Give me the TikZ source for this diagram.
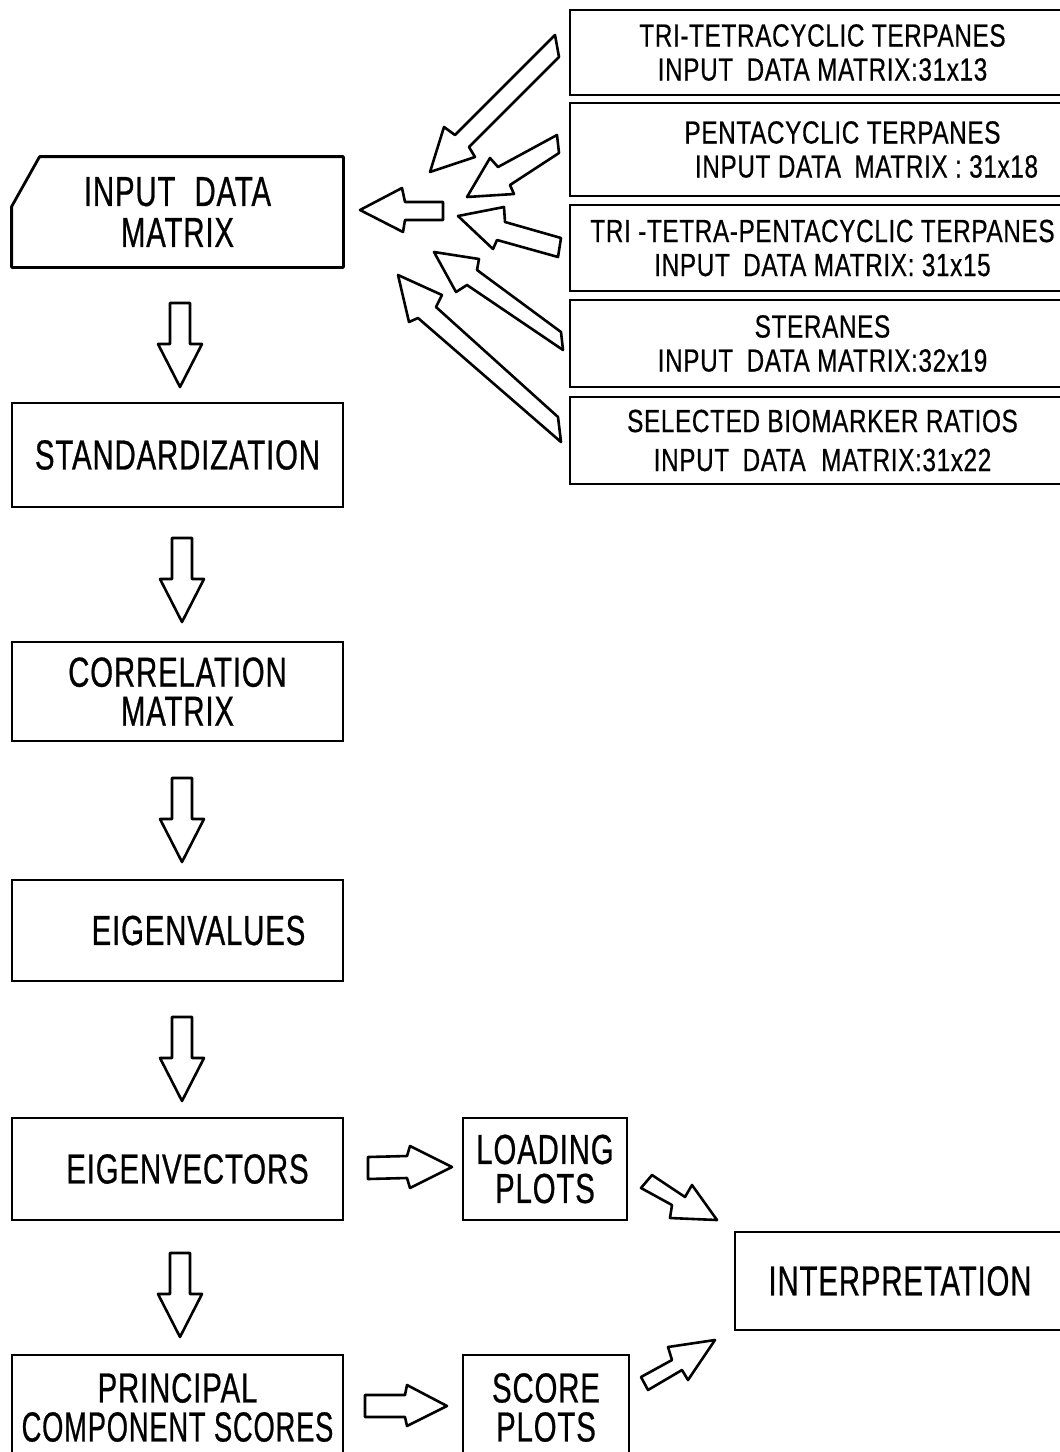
\documentclass[tikz,border=0pt]{standalone}
\usepackage{fontspec}
\setmainfont{Liberation Sans}
\newfontfamily\bigf[FakeStretch=0.70, FakeBold=0.6, LetterSpace=2]{Liberation Sans}
\newfontfamily\smf[FakeStretch=0.76, FakeBold=0.5, LetterSpace=2]{Liberation Sans}
\usetikzlibrary{calc}
\begin{document}
\begin{tikzpicture}[x=0.5pt,y=-0.5pt,
  lbox/.style={draw, line width=1.4pt, inner sep=0pt, align=center,
    minimum width=165.5pt, font={\bigf\fontsize{21}{19.5}\selectfont}},
  rbox/.style={draw, line width=1.4pt, inner sep=0pt, align=center,
    minimum width=252.5pt, font={\smf\fontsize{16}{17}\selectfont}},
  pbox/.style={draw, line width=1.4pt, inner sep=0pt, align=center,
    font={\bigf\fontsize{21}{19.5}\selectfont}},
  blockarrow/.style={draw, line width=1.3pt, line join=round, fill=white},
  downarr/.pic={\draw[blockarrow] (-10,0) -- (10,0) -- (10,41) -- (22,41) -- (0,84) -- (-22,41) -- (-10,41) -- cycle;}
]
\useasboundingbox (0,0) rectangle (1060,1452);
\clip (0,0) rectangle (1060,1452);
\fill[white] (0,0) rectangle (1060,1452);

% left column
\node[inner sep=0pt, minimum width=165.5pt, minimum height=55pt, align=center,
  font={\bigf\fontsize{21}{20.5}\selectfont}] (input) at (177.5,212) {INPUT\hspace{5pt} DATA\\MATRIX};
\draw[line width=1.4pt, line join=round] ($(input.north west)+(28,0)$) -- (input.north east)
  -- (input.south east) -- (input.south west) -- ($(input.north west)+(0,50)$) -- cycle;

\node[lbox, minimum height=52pt] (std) at (177.5,455) {STANDARDIZATION};
\node[lbox, minimum height=49.5pt] (corr) at (177.5,691.5) {CORRELATION\\MATRIX};
\node[lbox, minimum height=50.5pt] (eval) at (177.5,930.5) {\hspace*{21pt}EIGENVALUES};
\node[lbox, minimum height=51pt] (evec) at (177.5,1169) {\hspace*{10pt}EIGENVECTORS};
\node[lbox, minimum height=52.5pt] (pcs) at (177.5,1407.5) {PRINCIPAL\\\scalebox{0.93}[1]{COMPONENT SCORES}};

% right column
\node[rbox, minimum height=42.5pt] (b1) at (822.5,52.5) {TRI-TETRACYCLIC TERPANES\\INPUT\hspace{3pt} DATA MATRIX:31x13};
\node[rbox, minimum height=46.5pt] (b2) at (822.5,149.5) {\hspace*{20pt}PENTACYCLIC TERPANES\\\hspace*{44pt}INPUT DATA\hspace{3pt} MATRIX : 31x18};
\node[rbox, minimum height=43pt] (b3) at (822.5,248) {TRI -TETRA-PENTACYCLIC TERPANES\\INPUT\hspace{3pt} DATA MATRIX: 31x15};
\node[rbox, minimum height=43.5pt] (b4) at (822.5,343.5) {STERANES\\INPUT\hspace{3pt} DATA MATRIX:32x19};
\node[rbox, minimum height=43.5pt, font={\smf\fontsize{16}{19.5}\selectfont}] (b5) at (822.5,440.5) {SELECTED BIOMARKER RATIOS\\INPUT\hspace{3pt} DATA\hspace{4pt} MATRIX:31x22};

% plots and interpretation
\node[pbox, minimum width=82pt, minimum height=51pt] (load) at (545,1169) {LOADING\\PLOTS};
\node[pbox, minimum width=83pt, minimum height=52.5pt] (score) at (546,1407.5) {SCORE\\PLOTS};
\node[pbox, minimum width=170pt, minimum height=49pt] (interp) at (905,1281) {\hspace*{-5pt}INTERPRETATION};

% arrows into input data matrix
\draw[blockarrow] (555,35) -- (559,57) -- (469,147) -- (475,157) -- (430,172) -- (444,127) -- (455,135) -- cycle;
\draw[blockarrow] (557,135) -- (559,153) -- (510,185) -- (514,194) -- (467,197) -- (490,158) -- (498,167) -- cycle;
\draw[blockarrow] (443,202) -- (443,220) -- (405,220) -- (403,232) -- (360,210) -- (402,188) -- (405,202) -- cycle;
\draw[blockarrow] (561,238) -- (558,257) -- (497,240) -- (493,249) -- (458,216) -- (504,207) -- (505,222) -- cycle;
\draw[blockarrow] (561,332) -- (563,350) -- (467,285) -- (456,292) -- (434,252) -- (479,259) -- (477,270) -- cycle;
\draw[blockarrow] (558,417) -- (561,442) -- (418,318) -- (409,322) -- (398,275) -- (442,295) -- (436,307) -- cycle;

% down arrows
\pic at (180,303) {downarr};
\pic at (182,538) {downarr};
\pic at (182,778) {downarr};
\pic at (182,1017) {downarr};
\pic at (180,1253) {downarr};

% right arrows
\draw[blockarrow] (368,1157) -- (407,1156) -- (410,1146) -- (452,1167) -- (410,1188) -- (407,1178) -- (368,1179) -- cycle;
\draw[blockarrow] (365,1395) -- (405,1395) -- (407,1385) -- (447,1406) -- (407,1426) -- (405,1417) -- (365,1417) -- cycle;
\draw[blockarrow] (652,1175) -- (685,1197) -- (692,1185) -- (717,1220) -- (670,1218) -- (672,1205) -- (641,1188) -- cycle;
\draw[blockarrow] (641,1377) -- (672,1360) -- (668,1347) -- (715,1340) -- (688,1380) -- (682,1370) -- (648,1390) -- cycle;
\end{tikzpicture}
\end{document}
